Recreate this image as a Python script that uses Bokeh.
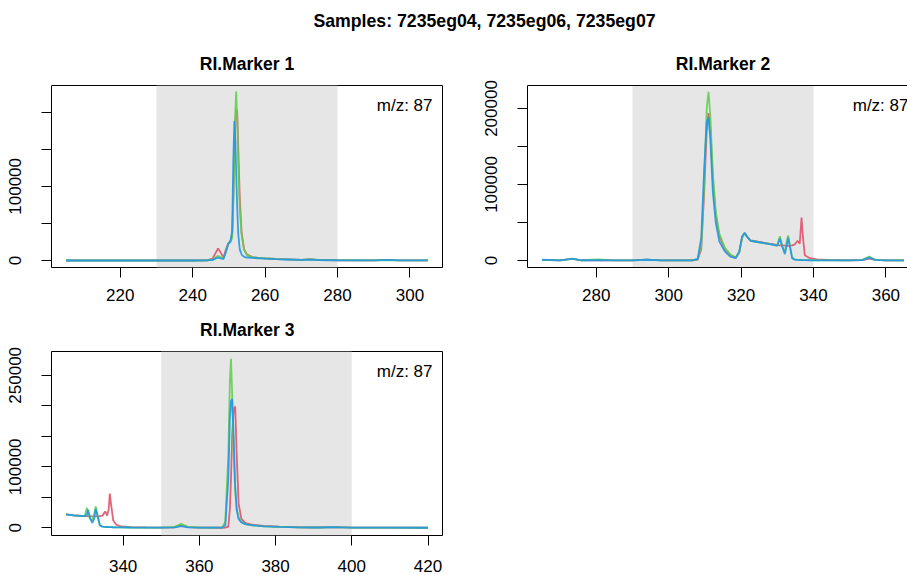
from bokeh.plotting import figure
from bokeh.layouts import column, row
from bokeh.models import Range1d, FixedTicker, BoxAnnotation, Label, LinearAxis, NumeralTickFormatter
from bokeh.embed import file_html
from bokeh.resources import INLINE

# ---------------- data ----------------
main_title = "Samples: 7235eg04, 7235eg06, 7235eg07"
samples = ["7235eg04", "7235eg06", "7235eg07"]
mz_label = "m/z: 87"

# RI.Marker 1
m1_title = "RI.Marker 1"
m1_window = [230, 280]
m1_rt = [205, 215, 225, 235, 240, 244, 245.5, 246.3, 247, 247.7, 248.5, 249.2, 249.8, 250.4,
         250.9, 251.2, 251.5, 251.8, 252.0, 252.3, 252.6, 253.0, 253.5, 254.2, 255, 256.5,
         258, 260, 263, 266, 270, 272.5, 275, 280, 285, 290, 293.7, 297, 305]
m1_eg04 = [0, 0, 0, 0, 0, 200, 2500, 10000, 16200, 11000, 4000, 15000, 23000, 26000,
           35000, 80000, 140000, 190000, 205000, 200000, 150000, 85000, 38000, 15000, 8000, 4500,
           3500, 2800, 2000, 1500, 800, 1800, 600, 300, 200, 200, 900, 200, 100]
m1_eg06 = [0, 0, 0, 0, 0, 100, 1000, 4000, 6300, 4500, 2500, 12000, 22000, 25000,
           30000, 70000, 140000, 205000, 228000, 190000, 125000, 70000, 35000, 14000, 7000, 4500,
           3800, 3000, 2200, 1600, 900, 1500, 700, 400, 300, 200, 600, 200, 100]
m1_eg07 = [0, 0, 0, 0, 0, 100, 800, 2500, 4000, 3000, 2000, 12000, 22000, 25000,
           40000, 130000, 188000, 160000, 120000, 70000, 35000, 15000, 8000, 5000, 4000, 3500,
           3000, 2500, 1800, 1300, 700, 1200, 500, 300, 200, 200, 700, 200, 100]
m1_xticks = [220, 240, 260, 280, 300]
m1_yticks = [0, 50000, 100000, 150000, 200000]
m1_ylabels = ["0", "", "100000", "", ""]

# RI.Marker 2
m2_title = "RI.Marker 2"
m2_window = [290, 340]
m2_rt = [265, 270, 273.4, 276, 280.6, 285, 290, 293.9, 298, 303, 306.5,
         308, 309, 309.8, 310.5, 311, 311.5, 312.2, 313, 314, 315.5, 317, 318.5,
         319.5, 320.3, 321, 321.7, 322.6, 325, 328, 330,
         330.7, 331.4, 332.1, 332.5, 333, 333.5, 334.1, 334.8, 335.6, 336.2, 336.7, 337.1, 337.6,
         339, 341, 345, 350, 353.5, 355.4, 357, 360, 365]
m2_eg04 = [800, 200, 2200, 300, 600, 200, 200, 1200, 200, 100, 100,
           1000, 15000, 90000, 170000, 194000, 175000, 105000, 60000, 32000, 15000, 7000, 3500,
           11000, 31000, 36000, 31000, 26500, 24500, 22000, 20500,
           20000, 19800, 19500, 19500, 19300, 19500, 19800, 21000, 26000, 22000, 56600, 30000, 7000,
           3000, 1500, 600, 300, 600, 2600, 800, 200, 100]
m2_eg06 = [800, 200, 2000, 300, 1500, 200, 200, 1000, 200, 100, 100,
           1500, 20000, 100000, 200000, 222000, 190000, 115000, 65000, 35000, 17000, 8000, 4000,
           10000, 30000, 36000, 31000, 26000, 24000, 21500, 19500,
           32000, 18000, 11000, 22000, 33000, 20000, 4000, 1500, 800, 700, 600, 600, 500,
           400, 300, 200, 100, 800, 5300, 1000, 200, 100]
m2_eg07 = [1000, 200, 2500, 300, 400, 200, 200, 1000, 200, 100, 100,
           2000, 30000, 120000, 182000, 188000, 160000, 90000, 50000, 25000, 12000, 5000, 3000,
           12000, 32000, 36500, 31000, 26000, 24000, 21500, 19500,
           29000, 18000, 8300, 18000, 30000, 18000, 3000, 1200, 700, 600, 500, 500, 400,
           300, 200, 200, 100, 600, 3900, 800, 200, 100]
m2_xticks = [280, 300, 320, 340, 360]
m2_yticks = [0, 50000, 100000, 150000, 200000]
m2_ylabels = ["0", "", "100000", "", "200000"]

# RI.Marker 3
m3_title = "RI.Marker 3"
m3_window = [350, 400]
m3_rt = [325, 327, 329.9,
         330.5, 330.8, 331.4, 331.9, 332.4, 332.8, 333.3, 333.9, 334.6,
         335.3, 335.8, 336.2, 336.5, 336.9, 337.4,
         338.2, 339.5, 342, 346, 350, 353.5, 355.2, 357, 360, 364,
         366, 366.8, 367.6, 368.0, 368.3, 368.6, 369.0, 369.4, 369.8, 370.3, 371.0,
         372, 374, 377, 381, 386, 391, 395.3, 400, 410, 420]
m3_eg04 = [21900, 20500, 19000,
           19000, 18900, 18800, 18800, 18800, 18800, 18800, 19000, 20000,
           26800, 20000, 30000, 56000, 35000, 12000,
           5000, 2500, 1200, 600, 300, 800, 3800, 1000, 200, 100,
           100, 200, 2000, 30000, 80000, 150000, 195000, 199000, 120000, 40000, 15000,
           8000, 5000, 3000, 1800, 900, 500, 1000, 300, 200, 100]
m3_eg06 = [21900, 20500, 19000,
           32800, 22000, 14000, 12000, 22000, 35000, 18000, 3800, 2000,
           1500, 1300, 1200, 1100, 1000, 900,
           800, 700, 500, 300, 200, 1500, 6500, 1500, 300, 200,
           500, 10000, 120000, 240000, 277000, 220000, 120000, 60000, 30000, 17500, 10000,
           6000, 4000, 2500, 1500, 800, 500, 1200, 300, 200, 100]
m3_eg07 = [21900, 20500, 19000,
           22000, 29500, 15000, 8200, 15000, 31000, 20000, 4000, 2000,
           1500, 1300, 1200, 1100, 1000, 900,
           800, 700, 500, 300, 200, 800, 2700, 800, 300, 200,
           300, 4000, 80000, 180000, 208000, 211000, 150000, 70000, 30000, 14000, 9000,
           6000, 4000, 2500, 1500, 800, 500, 1000, 300, 200, 100]
m3_xticks = [340, 360, 380, 400, 420]
m3_yticks = [0, 50000, 100000, 150000, 200000, 250000]
m3_ylabels = ["0", "", "100000", "", "", "250000"]

# ---------------- styling ----------------
FONT = "Liberation Sans"
COLORS = ["#DF536B", "#61D04F", "#2297E6"]
BAND = "#E6E6E6"
W = 907
# the column layout aligns the strips' frames with the panels' frames (51 px left, 34 px right)
STRIP_X = (51, W - 34)


def strip(height):
    s = figure(width=W, height=height, x_range=Range1d(*STRIP_X), y_range=Range1d(0, height),
               x_axis_location=None, y_axis_location=None, toolbar_location=None,
               output_backend="svg", min_border=0)
    s.grid.visible = False
    s.outline_line_color = None
    return s


def strip_text(s, x, y, text, size="17.5px"):
    s.add_layout(Label(x=x, y=y, text=text, text_align="center", text_baseline="alphabetic",
                       text_font=FONT, text_font_size=size, text_font_style="bold",
                       text_color="black"))


def make_panel(rt, series, window, xr, yr, xticks, yticks, ylabels,
               width, height, bl, br, bt, bb, boxed=True, label_standoff=11,
               label_line_height=1.2):
    p = figure(width=width, height=height, x_range=Range1d(*xr), y_range=Range1d(*yr),
               toolbar_location=None, output_backend="svg",
               min_border_left=bl, min_border_right=br, min_border_top=bt, min_border_bottom=bb)
    p.grid.visible = False
    p.background_fill_color = "white"
    p.border_fill_color = "white"
    band = BoxAnnotation(left=window[0], right=window[1], fill_color=BAND, fill_alpha=1.0,
                         line_color=None, level="underlay")
    p.add_layout(band)
    for ys, c in zip(series, COLORS):
        p.line(rt, ys, line_color=c, line_width=1.8, line_alpha=0.9)

    p.xaxis.ticker = FixedTicker(ticks=xticks)
    p.yaxis.ticker = FixedTicker(ticks=yticks)
    p.xaxis.major_label_overrides = {t: str(t) for t in xticks}
    p.yaxis.formatter = NumeralTickFormatter(format="0")
    p.yaxis.major_label_overrides = {t: l for t, l in zip(yticks, ylabels)}
    p.yaxis.major_label_orientation = "vertical"
    for ax in (p.xaxis, p.yaxis):
        ax.major_tick_out = 10
        ax.major_tick_in = 0
        ax.minor_tick_line_color = None
        ax.major_tick_line_color = "black"
        ax.major_label_text_font = FONT
        ax.major_label_text_font_size = "17px"
        ax.major_label_text_color = "black"
    p.xaxis.major_label_standoff = label_standoff
    p.xaxis.major_label_text_line_height = label_line_height
    p.yaxis.major_label_standoff = 20

    if boxed:
        p.outline_line_color = "black"
        p.outline_line_width = 1
        p.outline_line_alpha = 1
        p.xaxis.axis_line_color = None
        p.yaxis.axis_line_color = None
    else:
        p.outline_line_color = None
        p.xaxis.axis_line_color = "black"
        p.yaxis.axis_line_color = "black"
        top = LinearAxis(ticker=FixedTicker(ticks=[]), major_tick_out=0, major_tick_in=0,
                         minor_tick_line_color=None, major_label_text_font_size="0px",
                         axis_line_color="black", major_label_standoff=0)
        p.add_layout(top, "above")
    return p


def add_mz(p, x, y):
    p.add_layout(Label(x=x, y=y, x_offset=-10, y_offset=-19.5, text=mz_label, text_align="right",
                       text_baseline="alphabetic", text_font=FONT, text_font_size="17px",
                       text_color="black"))


# top strip: main title and the titles of the first row
top = strip(77)
strip_text(top, 484, 57, main_title, size="17.7px")
strip_text(top, 246.5, 14, m1_title)
strip_text(top, 722.5, 14, m2_title)

p1 = make_panel(m1_rt, [m1_eg04, m1_eg06, m1_eg07], m1_window,
                (201, 309), (-9460, 236000), m1_xticks, m1_yticks, m1_ylabels,
                476, 231, 51, 34, 8, 41)
add_mz(p1, 309, 236000)

p2 = make_panel(m2_rt, [m2_eg04, m2_eg06, m2_eg07], m2_window,
                (261, 365.97), (-9210, 230260), m2_xticks, m2_yticks, m2_ylabels,
                431, 231, 51, 0, 8, 41, boxed=False)
add_mz(p2, 369.0, 230260)

# middle strip: title of the second row
mid = strip(35)
strip_text(mid, 246.7, 14, m3_title)

p3 = make_panel(m3_rt, [m3_eg04, m3_eg06, m3_eg07], m3_window,
                (321.2, 423.8), (-12620, 289020), m3_xticks, m3_yticks, m3_ylabels,
                476, 232, 51, 34, 8, 40, label_standoff=14, label_line_height=0.9)
add_mz(p3, 423.8, 289020)

layout = column(top, row(p1, p2), mid, p3)
open("out.html", "w").write(file_html(layout, INLINE))
